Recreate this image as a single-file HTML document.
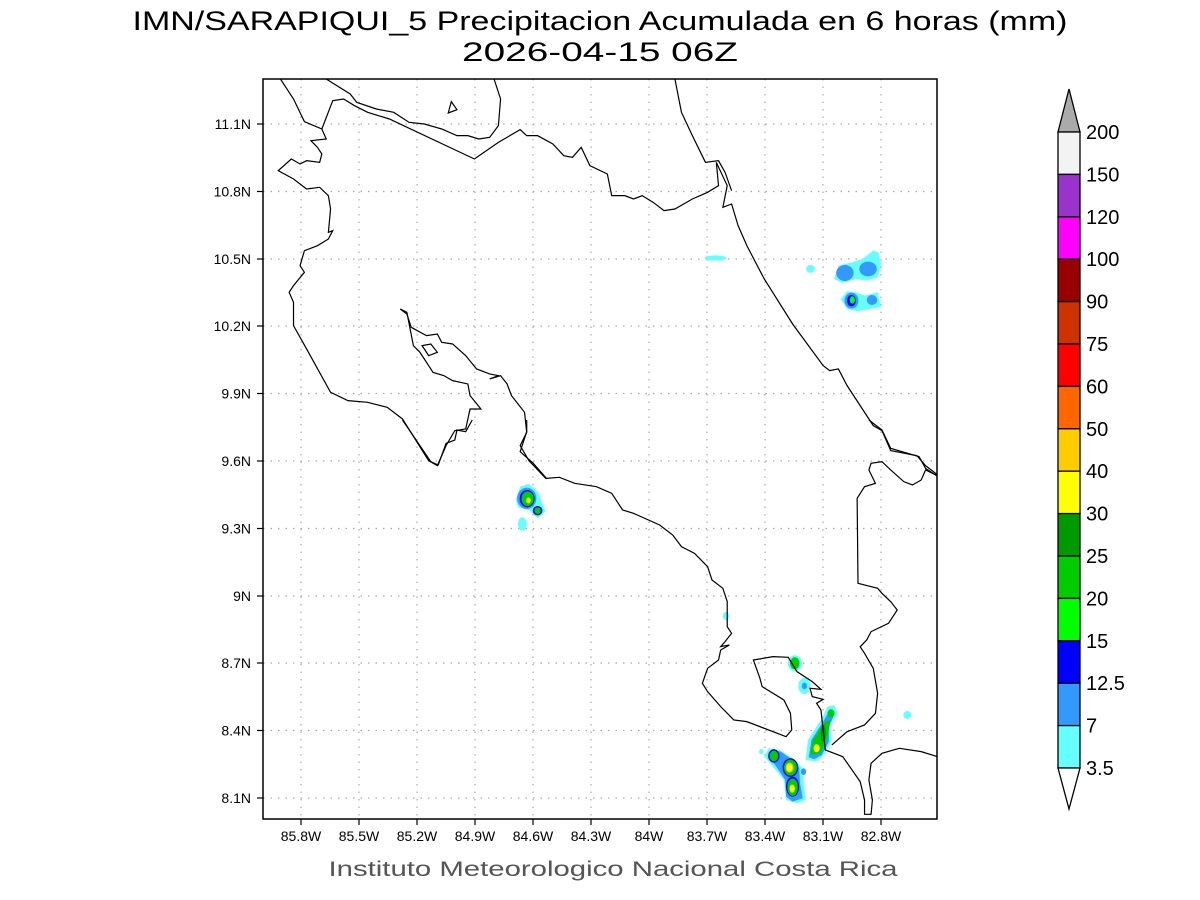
<!DOCTYPE html>
<html><head><meta charset="utf-8"><style>
html,body{margin:0;padding:0;background:#fff;}
svg{display:block;font-family:"Liberation Sans",sans-serif;}
</style></head><body>
<svg width="1200" height="900" viewBox="0 0 1200 900" xmlns="http://www.w3.org/2000/svg">
<defs><clipPath id="pc"><rect x="263" y="79" width="674" height="740"/></clipPath></defs>
<rect width="1200" height="900" fill="#fff"/>
<text x="600" y="30" font-size="27" text-anchor="middle" textLength="935" lengthAdjust="spacingAndGlyphs">IMN/SARAPIQUI_5 Precipitacion Acumulada en 6 horas (mm)</text>
<text x="600" y="61" font-size="27" text-anchor="middle" textLength="276" lengthAdjust="spacingAndGlyphs">2026-04-15 06Z</text>

<!-- grid -->
<g stroke="#aaa" stroke-width="1.2" stroke-dasharray="1.5,6">
<line x1="301" y1="79" x2="301" y2="819"/><line x1="359" y1="79" x2="359" y2="819"/><line x1="417" y1="79" x2="417" y2="819"/><line x1="475" y1="79" x2="475" y2="819"/><line x1="533" y1="79" x2="533" y2="819"/><line x1="591" y1="79" x2="591" y2="819"/><line x1="649" y1="79" x2="649" y2="819"/><line x1="707" y1="79" x2="707" y2="819"/><line x1="765" y1="79" x2="765" y2="819"/><line x1="823" y1="79" x2="823" y2="819"/><line x1="881" y1="79" x2="881" y2="819"/>
<line x1="263" y1="124" x2="937" y2="124"/><line x1="263" y1="191.5" x2="937" y2="191.5"/><line x1="263" y1="259" x2="937" y2="259"/><line x1="263" y1="326" x2="937" y2="326"/><line x1="263" y1="393.5" x2="937" y2="393.5"/><line x1="263" y1="461" x2="937" y2="461"/><line x1="263" y1="528.5" x2="937" y2="528.5"/><line x1="263" y1="596" x2="937" y2="596"/><line x1="263" y1="663" x2="937" y2="663"/><line x1="263" y1="730.5" x2="937" y2="730.5"/><line x1="263" y1="798" x2="937" y2="798"/>
</g>

<g clip-path="url(#pc)">
<!-- precipitation zoom1 coords -->
<g transform="translate(263,79) scale(0.4359,0.3333)">
<ellipse cx="1038" cy="537" rx="25" ry="8" fill="#66ffff"/>
<ellipse cx="1256" cy="570" rx="10" ry="12" fill="#66ffff"/>
<path d="M1310,600 L1320,560 L1350,550 L1375,540 L1400,515 L1412,520 L1418,560 L1410,595 L1385,605 L1360,600 L1330,612 Z" fill="#66ffff"/>
<ellipse cx="1335" cy="582" rx="20" ry="24" fill="#3399ff"/>
<ellipse cx="1388" cy="570" rx="20" ry="22" fill="#3399ff"/>
<path d="M1325,660 L1340,637 L1360,640 L1380,650 L1410,640 L1418,685 L1390,690 L1365,697 L1340,690 Z" fill="#66ffff"/>
<ellipse cx="1350" cy="665" rx="16" ry="24" fill="#3399ff"/>
<ellipse cx="1350" cy="665" rx="10" ry="17" fill="#0000ff"/>
<ellipse cx="1352" cy="663" rx="6" ry="11" fill="#00ff00"/>
<ellipse cx="1397" cy="663" rx="12" ry="15" fill="#3399ff"/>
</g>
<g transform="translate(263,420) scale(0.4359,0.3333)">
<path d="M580,240 L590,200 L610,192 L630,215 L648,275 L630,295 L610,270 L585,262 Z" fill="#66ffff"/>
<ellipse cx="605" cy="235" rx="22" ry="32" fill="#3399ff"/>
<ellipse cx="606" cy="236" rx="17" ry="26" fill="#0000ff"/>
<ellipse cx="607" cy="236" rx="14" ry="22" fill="#00cc00"/>
<ellipse cx="609" cy="241" rx="5" ry="9" fill="#ffff00"/>
<ellipse cx="630" cy="272" rx="11" ry="14" fill="#0000ff"/>
<ellipse cx="630" cy="272" rx="7" ry="10" fill="#00cc00"/>
<ellipse cx="595" cy="312" rx="10" ry="20" fill="#66ffff"/>
<ellipse cx="1062" cy="588" rx="7" ry="12" fill="#66ffff"/>
<ellipse cx="1478" cy="885" rx="9" ry="12" fill="#66ffff"/>
<ellipse cx="1143" cy="995" rx="5" ry="8" fill="#66ffff"/>
<ellipse cx="1220" cy="730" rx="16" ry="24" fill="#66ffff"/>
<ellipse cx="1220" cy="730" rx="11" ry="18" fill="#00cc00"/>
<ellipse cx="1242" cy="798" rx="14" ry="24" fill="#66ffff"/>
<ellipse cx="1242" cy="798" rx="6" ry="10" fill="#3399ff"/>
<path d="M1245,1020 L1250,960 L1280,900 L1295,860 L1310,855 L1318,880 L1300,920 L1305,960 L1290,1000 L1270,1025 Z" fill="#66ffff"/>
<path d="M1252,1012 L1258,960 L1285,905 L1300,870 L1312,880 L1298,920 L1298,965 L1282,1005 L1265,1018 Z" fill="#3399ff"/>
<path d="M1255,1005 L1262,960 L1290,905 L1302,900 L1293,960 L1278,1000 Z" fill="#00cc00"/>
<ellipse cx="1303" cy="880" rx="8" ry="12" fill="#00cc00"/>
<ellipse cx="1285" cy="940" rx="6" ry="25" fill="#009900"/>
<ellipse cx="1270" cy="985" rx="7" ry="12" fill="#ffff00"/>
<path d="M1150,1010 L1160,985 L1185,990 L1215,1015 L1235,1040 L1240,1080 L1245,1140 L1225,1150 L1200,1140 L1195,1080 L1170,1040 Z" fill="#66ffff"/>
<path d="M1158,1010 L1168,990 L1188,995 L1215,1020 L1230,1045 L1232,1090 L1238,1135 L1215,1145 L1200,1130 L1198,1080 L1175,1035 Z" fill="#3399ff"/>
<ellipse cx="1172" cy="1008" rx="13" ry="20" fill="#0000ff"/>
<ellipse cx="1172" cy="1008" rx="10" ry="16" fill="#00cc00"/>
<ellipse cx="1210" cy="1043" rx="18" ry="28" fill="#0000ff"/>
<ellipse cx="1210" cy="1043" rx="15" ry="24" fill="#00cc00"/>
<ellipse cx="1208" cy="1043" rx="9" ry="15" fill="#ffcc00"/>
<ellipse cx="1208" cy="1043" rx="6" ry="11" fill="#ffff00"/>
<ellipse cx="1215" cy="1100" rx="15" ry="30" fill="#0000ff"/>
<ellipse cx="1215" cy="1102" rx="12" ry="26" fill="#00cc00"/>
<ellipse cx="1214" cy="1106" rx="6" ry="12" fill="#ffff00"/>
<ellipse cx="1240" cy="1055" rx="6" ry="10" fill="#3399ff"/>
</g>

<!-- coastlines -->
<g fill="none" stroke="#000" stroke-width="1.2">
<g transform="translate(263,79) scale(0.4359,0.3333)">
<polyline vector-effect="non-scaling-stroke" points="40,0 70,60 95,128 135,150"/>
<polyline vector-effect="non-scaling-stroke" points="145,0 200,45 215,70 260,90 300,100 335,130 370,135 410,150 445,170 470,170 495,180 520,175 540,140 545,60 530,0"/>
<polyline vector-effect="non-scaling-stroke" points="135,150 160,65 185,60 210,80 240,100 290,120 485,240 540,190 590,152 605,170 630,170 665,195 690,230 710,235 730,205 750,260 790,285 800,350 830,350 850,360 870,350 895,370 920,395 945,390 985,360 1020,340 1045,320 1040,250"/>
<polyline vector-effect="non-scaling-stroke" points="945,0 960,100 985,170 1015,250 1045,245 1060,280 1075,335"/>
<polyline vector-effect="non-scaling-stroke" points="1040,250 1065,320 1055,385 1075,375 1090,440 1110,500 1150,600 1215,735 1285,860 1300,875 1320,870 1340,920 1400,1040 1420,1055 1440,1115 1500,1130 1520,1160 1560,1200"/>
<polyline vector-effect="non-scaling-stroke" points="135,150 145,180 110,185 125,205 135,225 130,250 100,245 85,255 65,240 35,275 70,300 100,330 130,325 150,350 155,390 150,460 160,455 150,480 125,500 95,515 85,560 95,580 70,620 60,640 70,670 70,740 100,810 155,940 195,965 240,970 285,985 320,1020 380,1145 400,1160 420,1100 440,1055 465,1050 475,990 500,990 475,950 470,915 435,905 415,890 390,880 360,820 345,800 330,700 315,690"/>
<polyline vector-effect="non-scaling-stroke" points="315,690 330,705 340,745 375,770 400,765 410,790 435,795 465,830 490,870 520,885 540,890 520,900 545,890 560,915 570,950 600,1000 605,1060 590,1100 610,1145 650,1200"/>
<polygon vector-effect="non-scaling-stroke" points="365,800 385,795 400,820 380,830"/>
<polygon vector-effect="non-scaling-stroke" points="425,102 432,68 445,92"/>
</g>
<g transform="translate(263,420) scale(0.4359,0.3333)">
<polyline vector-effect="non-scaling-stroke" points="320,0 385,125 402,135 420,70 440,60 445,30 465,35 480,0"/>
<polyline vector-effect="non-scaling-stroke" points="605,0 605,35 590,95 620,130 650,175 680,172 715,190 765,200 800,220 825,270 850,280 910,315 940,345 960,380 990,400 1020,440 1030,480 1055,505 1065,545 1065,620 1075,640 1060,665 1050,680 1070,675 1050,690 1045,720 1020,745 1008,790 1020,815 1050,860 1080,900 1110,905 1200,950 1213,930 1210,880 1195,840 1145,800 1140,775 1125,720 1170,710 1205,712 1225,755 1260,785 1280,808 1255,805 1260,830 1285,838 1270,850 1280,870 1290,990 1330,1010 1370,1085 1380,1140 1380,1183 1395,1183 1398,1140 1390,1080 1395,1030 1420,1000 1460,985 1510,995 1560,1015"/>
<polyline vector-effect="non-scaling-stroke" points="1305,975 1340,935 1380,915 1405,880 1410,820 1400,745 1380,700 1370,680 1385,660 1395,635 1435,610 1455,570 1440,545 1420,520 1410,505 1365,490 1363,235 1380,200 1405,190 1390,150 1395,130 1420,125 1440,150 1470,185 1490,195 1510,180 1520,150 1560,175"/>
<polyline vector-effect="non-scaling-stroke" points="1390,0 1420,30 1440,85 1505,110 1520,145 1560,180"/>
</g>
</g>
</g>

<!-- axes -->
<rect x="263" y="79" width="674" height="740" fill="none" stroke="#000" stroke-width="1.5"/>
<g stroke="#000" stroke-width="1.2">
<line x1="301" y1="819" x2="301" y2="825"/><line x1="359" y1="819" x2="359" y2="825"/><line x1="417" y1="819" x2="417" y2="825"/><line x1="475" y1="819" x2="475" y2="825"/><line x1="533" y1="819" x2="533" y2="825"/><line x1="591" y1="819" x2="591" y2="825"/><line x1="649" y1="819" x2="649" y2="825"/><line x1="707" y1="819" x2="707" y2="825"/><line x1="765" y1="819" x2="765" y2="825"/><line x1="823" y1="819" x2="823" y2="825"/><line x1="881" y1="819" x2="881" y2="825"/>
<line x1="257" y1="124" x2="263" y2="124"/><line x1="257" y1="191.5" x2="263" y2="191.5"/><line x1="257" y1="259" x2="263" y2="259"/><line x1="257" y1="326" x2="263" y2="326"/><line x1="257" y1="393.5" x2="263" y2="393.5"/><line x1="257" y1="461" x2="263" y2="461"/><line x1="257" y1="528.5" x2="263" y2="528.5"/><line x1="257" y1="596" x2="263" y2="596"/><line x1="257" y1="663" x2="263" y2="663"/><line x1="257" y1="730.5" x2="263" y2="730.5"/><line x1="257" y1="798" x2="263" y2="798"/>
</g>
<g font-size="14" text-anchor="middle">
<text x="301" y="841">85.8W</text><text x="359" y="841">85.5W</text><text x="417" y="841">85.2W</text><text x="475" y="841">84.9W</text><text x="533" y="841">84.6W</text><text x="591" y="841">84.3W</text><text x="649" y="841">84W</text><text x="707" y="841">83.7W</text><text x="765" y="841">83.4W</text><text x="823" y="841">83.1W</text><text x="881" y="841">82.8W</text>
</g>
<g font-size="14" text-anchor="end">
<text x="251" y="129">11.1N</text><text x="251" y="196.5">10.8N</text><text x="251" y="264">10.5N</text><text x="251" y="331">10.2N</text><text x="251" y="398.5">9.9N</text><text x="251" y="466">9.6N</text><text x="251" y="533.5">9.3N</text><text x="251" y="601">9N</text><text x="251" y="668">8.7N</text><text x="251" y="735.5">8.4N</text><text x="251" y="803">8.1N</text>
</g>
<text x="613" y="876" font-size="21" fill="#555" text-anchor="middle" textLength="569" lengthAdjust="spacingAndGlyphs">Instituto Meteorologico Nacional Costa Rica</text>

<!-- colorbar -->
<g stroke="#000" stroke-width="1.3">
<polygon points="1058,132 1080,132 1069,89" fill="#aaaaaa"/>
<rect x="1058" y="132" width="22" height="42.4" fill="#f3f3f3"/>
<rect x="1058" y="174.4" width="22" height="42.4" fill="#9933cc"/>
<rect x="1058" y="216.8" width="22" height="42.4" fill="#ff00ff"/>
<rect x="1058" y="259.2" width="22" height="42.4" fill="#990000"/>
<rect x="1058" y="301.6" width="22" height="42.4" fill="#cc3300"/>
<rect x="1058" y="344" width="22" height="42.4" fill="#ff0000"/>
<rect x="1058" y="386.4" width="22" height="42.4" fill="#ff6600"/>
<rect x="1058" y="428.8" width="22" height="42.4" fill="#ffcc00"/>
<rect x="1058" y="471.2" width="22" height="42.4" fill="#ffff00"/>
<rect x="1058" y="513.6" width="22" height="42.4" fill="#009900"/>
<rect x="1058" y="556" width="22" height="42.4" fill="#00cc00"/>
<rect x="1058" y="598.4" width="22" height="42.4" fill="#00ff00"/>
<rect x="1058" y="640.8" width="22" height="42.4" fill="#0000ff"/>
<rect x="1058" y="683.2" width="22" height="42.4" fill="#3399ff"/>
<rect x="1058" y="725.6" width="22" height="42.4" fill="#66ffff"/>
<polygon points="1058,768 1080,768 1069,809" fill="#fff"/>
</g>
<g font-size="20">
<text x="1086" y="139">200</text><text x="1086" y="181.4">150</text><text x="1086" y="223.8">120</text><text x="1086" y="266.2">100</text><text x="1086" y="308.6">90</text><text x="1086" y="351">75</text><text x="1086" y="393.4">60</text><text x="1086" y="435.8">50</text><text x="1086" y="478.2">40</text><text x="1086" y="520.6">30</text><text x="1086" y="563">25</text><text x="1086" y="605.4">20</text><text x="1086" y="647.8">15</text><text x="1086" y="690.2">12.5</text><text x="1086" y="732.6">7</text><text x="1086" y="775">3.5</text>
</g>
</svg>
</body></html>
